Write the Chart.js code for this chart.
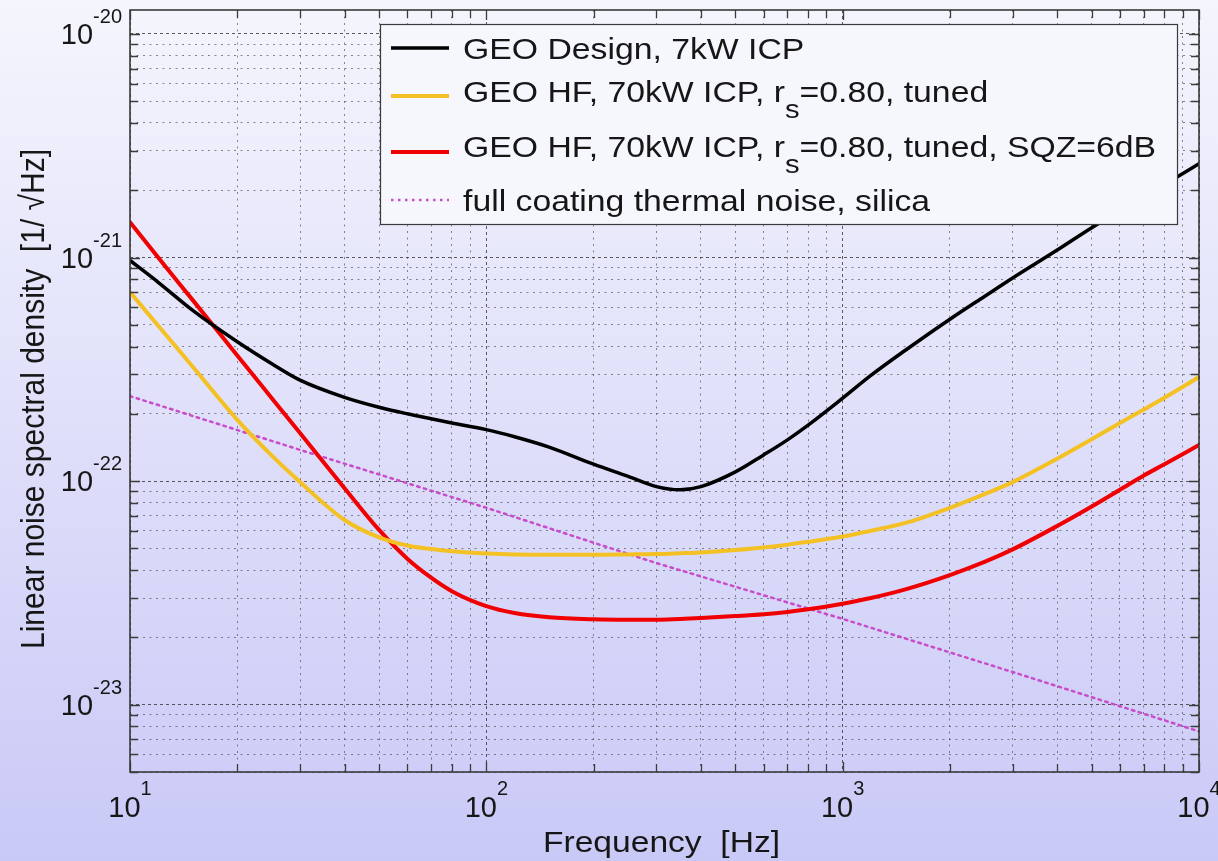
<!DOCTYPE html>
<html>
<head>
<meta charset="utf-8">
<title>GEO HF noise budget</title>
<script src="https://cdn.jsdelivr.net/npm/chart.js@4.4.1/dist/chart.umd.min.js"></script>
<style>
  html, body { margin: 0; padding: 0; background: #dedef9; }
  canvas { display: block; }
</style>
</head>
<body>
<canvas id="noise" width="1218" height="861"></canvas>
<script>
// Frequency grid of the sampled noise curves [Hz]
const frequencyHz = [10, 12, 15, 20, 25, 30, 40, 50, 60, 70, 80, 100, 120, 150, 200, 250, 300, 350, 400,
  500, 600, 700, 800, 1000, 1200, 1500, 2000, 2500, 3000, 4000, 5000, 6000, 7000, 8000, 10000];

// Linear noise spectral density [1/sqrt(Hz)]
const geoDesign = [9.7e-22, 7.75e-22, 5.8e-22, 4.2e-22, 3.35e-22, 2.83e-22, 2.37e-22, 2.14e-22, 2.0e-22, 1.9e-22,
  1.82e-22, 1.70e-22, 1.58e-22, 1.42e-22, 1.19e-22, 1.05e-22, 9.45e-23, 9.15e-23, 9.45e-23,
  1.1e-22, 1.31e-22, 1.53e-22, 1.78e-22, 2.35e-22, 2.97e-22, 3.85e-22, 5.3e-22, 6.7e-22, 8.1e-22,
  1.08e-21, 1.36e-21, 1.62e-21, 1.87e-21, 2.12e-21, 2.63e-21];
const geoHfTuned = [7.0e-22, 4.95e-22, 3.25e-22, 1.88e-22, 1.3e-22, 9.9e-23, 6.7e-23, 5.6e-23, 5.15e-23, 4.97e-23,
  4.86e-23, 4.75e-23, 4.7e-23, 4.68e-23, 4.68e-23, 4.7e-23, 4.72e-23, 4.76e-23, 4.8e-23,
  4.92e-23, 5.05e-23, 5.2e-23, 5.35e-23, 5.65e-23, 6.0e-23, 6.5e-23, 7.6e-23, 8.75e-23, 9.9e-23,
  1.26e-22, 1.54e-22, 1.82e-22, 2.09e-22, 2.36e-22, 2.92e-22];
const geoHfSqz = [1.44e-21, 1.0e-21, 6.45e-22, 3.65e-22, 2.35e-22, 1.64e-22, 9.3e-23, 6.05e-23, 4.5e-23, 3.7e-23,
  3.22e-23, 2.76e-23, 2.57e-23, 2.46e-23, 2.41e-23, 2.4e-23, 2.4e-23, 2.42e-23, 2.44e-23,
  2.49e-23, 2.54e-23, 2.6e-23, 2.67e-23, 2.83e-23, 3.0e-23, 3.28e-23, 3.8e-23, 4.35e-23, 4.95e-23,
  6.3e-23, 7.7e-23, 9.15e-23, 1.06e-22, 1.19e-22, 1.45e-22];

// Coating thermal noise (silica), a straight power law on log-log axes
const coatingFreqHz = [10, 30, 100, 300, 1000, 3000, 10000];
const coatingNoise = [2.4e-22, 1.38e-22, 7.6e-23, 4.3e-23, 2.42e-23, 1.4e-23, 7.6e-24];

// Series names; "_s" marks a subscript s
const seriesLabels = [
  'GEO Design, 7kW ICP',
  'GEO HF, 70kW ICP, r_s=0.80, tuned',
  'GEO HF, 70kW ICP, r_s=0.80, tuned, SQZ=6dB',
  'full coating thermal noise, silica'
];

// Axis ranges and decade labels (10^n)
const xRange = [10, 10000];
const yRange = [5e-24, 1.28e-20];
const xTickExponents = ['1', '2', '3', '4'];
const yTickExponents = ['-23', '-22', '-21', '-20'];
const xTitle = 'Frequency  [Hz]';
const yTitle = 'Linear noise spectral density  [1/ \u221AHz]';

const FONT = '"Liberation Sans", Arial, Helvetica, sans-serif';
const INK = '#161616';

function points(xs, ys) { return xs.map((x, i) => ({ x, y: ys[i] })); }

// All 1..9 x 10^n positions inside [min, max]
function decadeTicks(min, max) {
  const out = [];
  const e0 = Math.floor(Math.log10(min)), e1 = Math.ceil(Math.log10(max));
  for (let e = e0; e <= e1; e++) {
    for (let m = 1; m <= 9; m++) {
      const v = Number(m + 'e' + e);
      if (v >= min * 0.999999 && v <= max * 1.000001) out.push({ value: v, major: m === 1 });
    }
  }
  return out;
}

function richSegments(label) {
  const segs = []; let buf = '';
  for (let i = 0; i < label.length; i++) {
    if (label[i] === '_' && i + 1 < label.length) {
      if (buf) segs.push({ t: buf });
      segs.push({ t: label[i + 1], sub: true });
      buf = ''; i++;
    } else buf += label[i];
  }
  if (buf) segs.push({ t: buf });
  return segs;
}

function drawRich(ctx, segs, x, y, size, stretch) {
  ctx.save();
  ctx.translate(x, y);
  ctx.scale(stretch, 1);
  ctx.textAlign = 'left';
  ctx.textBaseline = 'alphabetic';
  let cx = 0;
  for (const s of segs) {
    const fs = s.sub ? Math.round(size * 0.87) : size;
    ctx.font = fs + 'px ' + FONT;
    ctx.fillText(s.t, cx, s.sub ? size * 0.53 : 0);
    cx += ctx.measureText(s.t).width;
  }
  ctx.restore();
}

// Widths of the "10" base and of the raised exponent
function powerLabel(ctx, exp, baseSize, supSize) {
  ctx.font = baseSize + 'px ' + FONT;
  const wb = ctx.measureText('10').width;
  ctx.font = supSize + 'px ' + FONT;
  const ws = ctx.measureText(exp).width;
  return { wb, ws };
}

const axisFrame = {
  id: 'axisFrame',
  beforeDraw(chart) {
    const { ctx, width, height } = chart;
    const g = ctx.createLinearGradient(0, 0, 0, height);
    g.addColorStop(0, '#f5f5fd');
    g.addColorStop(1, '#c9c9f7');
    ctx.save();
    ctx.fillStyle = g;
    ctx.fillRect(0, 0, width, height);
    ctx.restore();
  },
  afterDatasetsDraw(chart) {
    const { ctx, chartArea: a } = chart;
    const xs = chart.scales.x, ys = chart.scales.y;
    ctx.save();

    // inward tick marks on all four sides
    ctx.strokeStyle = '#3c3c3c';
    ctx.lineWidth = 1.3;
    ctx.setLineDash([]);
    ctx.beginPath();
    for (const t of xs.ticks) {
      const px = Math.round(xs.getPixelForValue(t.value)) + 0.5;
      const len = t.major ? 10 : 8;
      ctx.moveTo(px, a.bottom); ctx.lineTo(px, a.bottom - len);
      ctx.moveTo(px, a.top); ctx.lineTo(px, a.top + len);
    }
    for (const t of ys.ticks) {
      const py = Math.round(ys.getPixelForValue(t.value)) + 0.5;
      const len = t.major ? 10 : 8;
      ctx.moveTo(a.left, py); ctx.lineTo(a.left + len, py);
      ctx.moveTo(a.right, py); ctx.lineTo(a.right - len, py);
    }
    ctx.stroke();

    // axes box
    ctx.lineWidth = 1.6;
    ctx.strokeStyle = '#3a3a3a';
    ctx.strokeRect(a.left, a.top, a.right - a.left, a.bottom - a.top);

    // legend
    const box = { l: 380, t: 24, r: 1177, b: 224 };
    ctx.fillStyle = '#f6f6fd';
    ctx.fillRect(box.l, box.t, box.r - box.l, box.b - box.t);
    ctx.lineWidth = 1.2;
    ctx.strokeStyle = '#3a3a3a';
    ctx.strokeRect(box.l + 0.5, box.t + 0.5, box.r - box.l, box.b - box.t);
    const lineY = [48, 96, 152, 200];
    const baseY = [59, 102, 157, 211];
    chart.data.datasets.forEach((ds, i) => {
      ctx.save();
      ctx.strokeStyle = ds.borderColor;
      ctx.lineWidth = ds.borderWidth;
      ctx.setLineDash(ds.borderDash || []);
      ctx.lineCap = 'butt';
      ctx.beginPath();
      ctx.moveTo(391, lineY[i]);
      ctx.lineTo(449, lineY[i]);
      ctx.stroke();
      ctx.restore();
      ctx.fillStyle = INK;
      drawRich(ctx, richSegments(ds.label), 463, baseY[i], 30, 1.125);
    });
    ctx.restore();
  },
  afterDraw(chart) {
    const { ctx, chartArea: a } = chart;
    const xs = chart.scales.x, ys = chart.scales.y;
    ctx.save();
    ctx.fillStyle = INK;
    ctx.textBaseline = 'alphabetic';
    ctx.textAlign = 'left';
    const B = 29, S = 20;

    // y decade labels, right-aligned next to the axis
    yTickExponents.forEach(e => {
      const py = ys.getPixelForValue(Number('1e' + e));
      const { wb, ws } = powerLabel(ctx, e, B, S);
      const right = a.left - 8;
      ctx.font = S + 'px ' + FONT;
      ctx.fillText(e, right - ws, py - 11);
      ctx.font = B + 'px ' + FONT;
      ctx.fillText('10', right - ws - wb, py + 10);
    });

    // x decade labels, centred under the tick
    xTickExponents.forEach(e => {
      const px = xs.getPixelForValue(Number('1e' + e));
      const { wb, ws } = powerLabel(ctx, e, B, S);
      const left = px - (wb + ws) / 2;
      ctx.font = B + 'px ' + FONT;
      ctx.fillText('10', left, a.bottom + 45);
      ctx.font = S + 'px ' + FONT;
      ctx.fillText(e, left + wb, a.bottom + 23);
    });

    // axis titles
    ctx.font = '30px ' + FONT;
    ctx.textAlign = 'center';
    ctx.save();
    ctx.translate((a.left + a.right) / 2 - 3, 852);
    ctx.scale(1.12, 1);
    ctx.fillText(xTitle, 0, 0);
    ctx.restore();

    ctx.save();
    ctx.translate(44, 399);
    ctx.scale(1.12, 1);
    ctx.rotate(-Math.PI / 2);
    ctx.fillText(yTitle, 0, 0);
    ctx.restore();
    ctx.restore();
  }
};

function logAxis(range) {
  return {
    type: 'logarithmic',
    min: range[0],
    max: range[1],
    ticks: { display: false },
    border: { display: false, dash: c => (c.tick && c.tick.major) ? [3, 3] : [2, 4.5] },
    grid: {
      drawTicks: false,
      lineWidth: 1,
      color: c => (c.tick && c.tick.major) ? 'rgba(40,40,40,0.75)' : 'rgba(60,60,60,0.6)'
    },
    afterBuildTicks: s => { s.ticks = decadeTicks(range[0], range[1]); }
  };
}

new Chart(document.getElementById('noise'), {
  type: 'line',
  data: {
    datasets: [
      { label: seriesLabels[0], data: points(frequencyHz, geoDesign), borderColor: '#000000', borderWidth: 3.5 },
      { label: seriesLabels[1], data: points(frequencyHz, geoHfTuned), borderColor: '#f4c124', borderWidth: 4 },
      { label: seriesLabels[2], data: points(frequencyHz, geoHfSqz), borderColor: '#f00000', borderWidth: 4 },
      { label: seriesLabels[3], data: points(coatingFreqHz, coatingNoise), borderColor: '#c94cca', borderWidth: 2.5,
        borderDash: [2.5, 4.5], cubicInterpolationMode: 'default', tension: 0 }
    ]
  },
  options: {
    responsive: false,
    devicePixelRatio: 1,
    animation: false,
    events: [],
    layout: { padding: { left: 130, right: 19, top: 10, bottom: 89 } },
    elements: {
      point: { radius: 0 },
      line: { cubicInterpolationMode: 'monotone', borderCapStyle: 'round', borderJoinStyle: 'round' }
    },
    scales: { x: logAxis(xRange), y: logAxis(yRange) },
    plugins: { legend: { display: false }, tooltip: { enabled: false } }
  },
  plugins: [axisFrame]
});
</script>
</body>
</html>
